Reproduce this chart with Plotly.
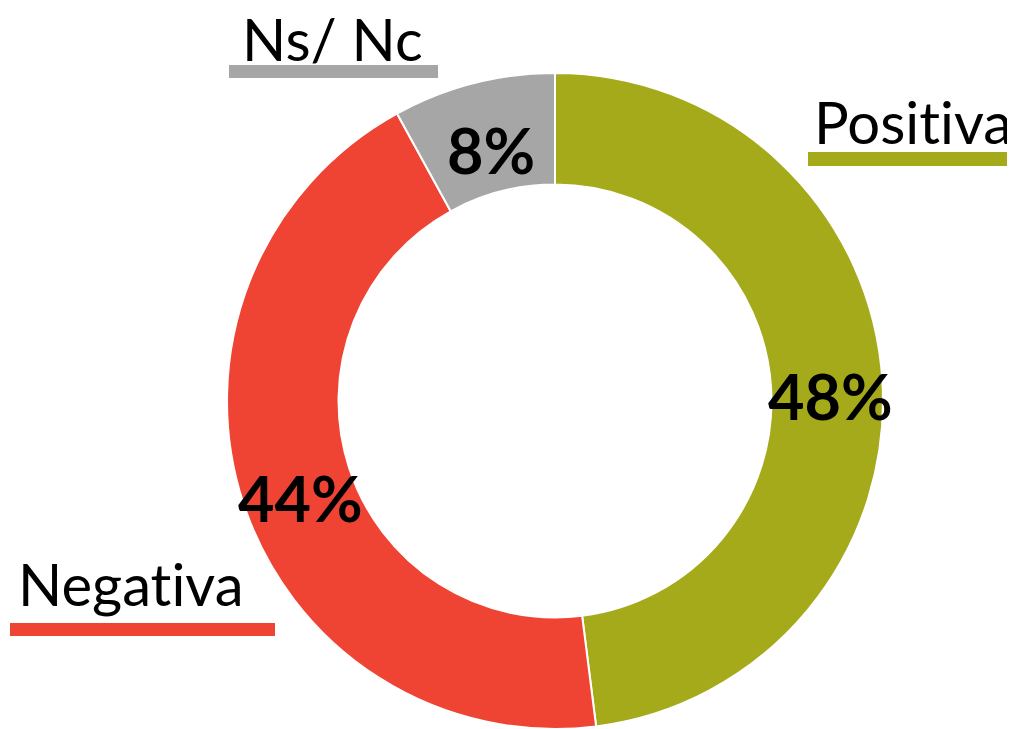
import numpy as np
import plotly.graph_objects as go

# slice data, clockwise from 12 o'clock
labels = ["Positiva", "Negativa", "Ns/ Nc"]
values = [48, 44, 8]
colors = ["#A5AA1B", "#EF4333", "#A6A6A6"]

W, H = 1015, 729
OFF = 8                        # page body margin shifts the figure
CX, CY, R = 555 - OFF, 401 - OFF, 328
HOLE = 0.66
FONT = "Lato"

fig = go.Figure(go.Pie(
    labels=labels,
    values=values,
    marker=dict(colors=colors, line=dict(color="#ffffff", width=2)),
    hole=HOLE,
    sort=False,
    direction="clockwise",
    rotation=0,
    textinfo="none",
    hoverinfo="label+percent",
    domain=dict(x=[(CX - R) / W, (CX + R) / W], y=[(H - CY - R) / H, (H - CY + R) / H]),
))

# percent labels on the ring, positioned from the slice mid-angles
total = sum(values)
cum = 0
r_mid = R * (1 + HOLE) / 2
for v in values:
    mid = (cum + v / 2) / total * 2 * np.pi
    cum += v
    px = CX + r_mid * np.sin(mid) + 4
    py = CY - r_mid * np.cos(mid) + 12
    fig.add_annotation(
        x=px / W, y=1 - py / H, xref="paper", yref="paper",
        text=f"<b>{round(v / total * 100)}%</b>", showarrow=False,
        font=dict(family=FONT, size=63, color="#000000"),
        xanchor="center", yanchor="middle",
    )

# category labels with coloured underline bars (pixel positions in screenshot)
legend_pos = {
    "Positiva": dict(tx=812, ty=121, bar=(808, 1015, 152, 166)),
    "Negativa": dict(tx=16, ty=583, bar=(10, 275, 623, 636)),
    "Ns/ Nc": dict(tx=240, ty=38, bar=(229, 438, 65, 78)),
}
for lab, col in zip(labels, colors):
    p = legend_pos[lab]
    fig.add_annotation(
        x=(p["tx"] - OFF) / W, y=1 - (p["ty"] - OFF) / H, xref="paper", yref="paper",
        text=lab.replace("ti", "t\u200ci"), showarrow=False,
        font=dict(family=FONT, size=58, color="#000000"),
        xanchor="left", yanchor="middle",
    )
    x0, x1, y0, y1 = p["bar"]
    fig.add_shape(
        type="rect", xref="paper", yref="paper",
        x0=(x0 - OFF) / W, x1=(x1 - OFF) / W,
        y0=1 - (y1 - OFF) / H, y1=1 - (y0 - OFF) / H,
        fillcolor=col, line=dict(width=0), layer="above",
    )

fig.update_layout(
    width=W, height=H,
    margin=dict(l=0, r=0, t=0, b=0),
    paper_bgcolor="#ffffff",
    plot_bgcolor="#ffffff",
    showlegend=False,
)

fig.write_html("out.html")
